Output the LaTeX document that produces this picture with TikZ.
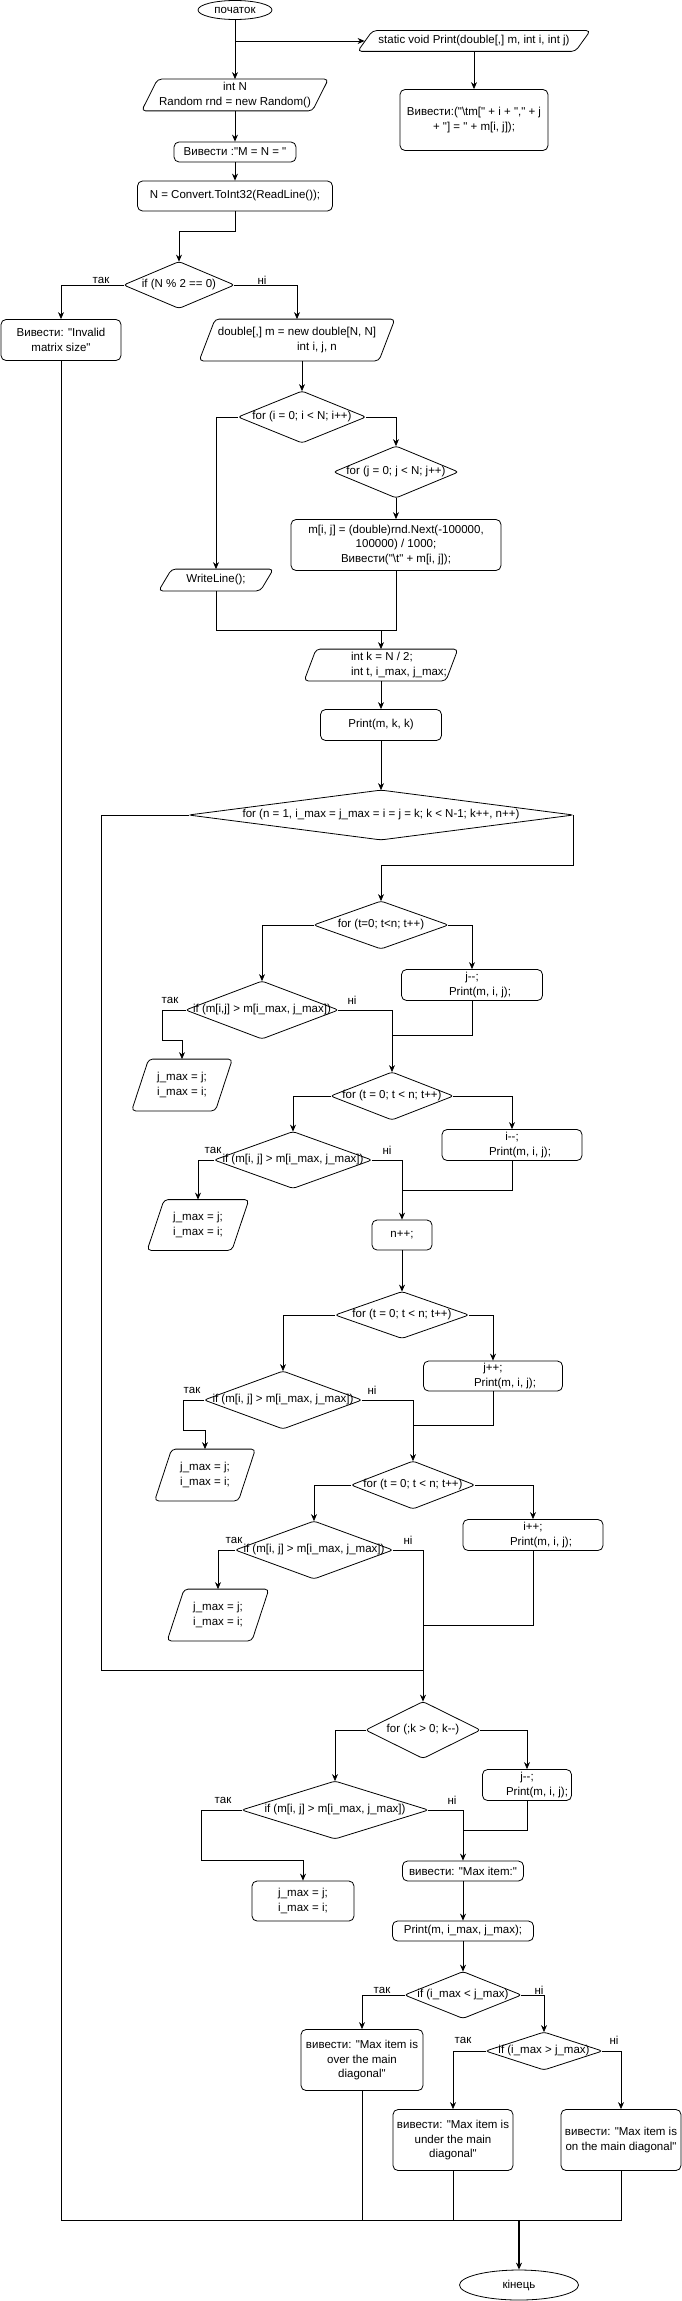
\documentclass[tikz,border=0pt]{standalone}
\usepackage{fontspec}
\setmainfont{Liberation Sans}[Ligatures=TeXOff]
\usepackage{tikz}
\usetikzlibrary{positioning,arrows.meta,shapes.geometric}

\newcommand{\slantbox}[2][15pt]{\draw[rounded corners=4pt] ([xshift=#1]#2.north west) -- (#2.north east) -- ([xshift=-#1]#2.south east) -- (#2.south west) -- cycle;}
\newcommand{\diabox}[1]{\draw[rounded corners=3pt] (#1.west) -- (#1.north) -- (#1.east) -- (#1.south) -- cycle;}

\begin{document}
\begin{tikzpicture}[x=1pt, y=-1pt, line width=0.8pt, font=\fontsize{11.5}{14.5}\selectfont,
    term/.style 2 args={draw, ellipse, inner sep=0pt, minimum width=#1, minimum height=#2},
    proc/.style 2 args={draw, rounded corners=5pt, inner sep=1pt, align=center, minimum width=#1, minimum height=#2},
    io/.style 2 args={inner sep=1pt, align=center, minimum width=#1, minimum height=#2},
    dec/.style 2 args={inner sep=0pt, align=center, minimum width=#1, minimum height=#2},
    lbl/.style={inner sep=0pt},
    arr/.style={-{Stealth[length=7pt,width=6pt]}}]
            \useasboundingbox (0,0) rectangle (682,2301);

            \node[term={74pt}{19pt}] (start) at (235,10) {початок};
            \node[io={232pt}{20pt}] (print) at (474,41) {static void Print(double[,] m, int i, int j)};
            \node[proc={148pt}{61pt}] (printout) at (474,120) {Вивести:("\textbackslash tm[" + i + "," + j\\+ "] = " + m[i, j]);};
            \node[io={186pt}{31pt}] (init) at (235,95) {int N\\Random rnd = new Random()};
            \node[proc={122pt}{20pt}] (askn) at (235,152) {Вивести :"M = N = "};
            \node[proc={195pt}{30pt}] (readn) at (235,196) {N = Convert.ToInt32(ReadLine());};
            \node[dec={110pt}{46pt}] (chk) at (179,285) {if (N \% 2 == 0)};
            \node[proc={120pt}{41pt}] (bad) at (61,340) {Вивести: "Invalid\\matrix size"};
            \node[io={195pt}{41pt}] (alloc) at (297,340) {double[,] m = new double[N, N]\\\hspace*{40pt}int i, j, n};
            \node[dec={127pt}{51pt}] (fori) at (302,417) {for (i = 0; i < N; i++)};
            \node[dec={124pt}{51pt}] (forj) at (396,472) {for (j = 0; j < N; j++)};
            \node[proc={210pt}{51pt}] (fill) at (396,545) {m[i, j] = (double)rnd.Next(-100000,\\100000) / 1000;\\Вивести("\textbackslash t" + m[i, j]);};
            \node[io={114pt}{21pt}] (wl) at (216,580) {WriteLine();};
            \node[io={153pt}{31pt}, align=left] (kinit) at (381,665) {\hspace*{36pt}int k = N / 2;\\\hspace*{36pt}int t, i\_max, j\_max;};
            \node[proc={121pt}{31pt}] (pkk) at (381,725) {Print(m, k, k)};
            \node[dec={384pt}{49pt}] (forn) at (381,815) {for (n = 1, i\_max = j\_max = i = j = k; k < N-1; k++, n++)};

            \node[dec={134pt}{47pt}] (ft1) at (381,925) {for (t=0; t<n; t++)};
            \node[proc={141pt}{31pt}] (jm1) at (472,985) {j-\kern0pt-;\\\hspace*{16pt}Print(m, i, j);};
            \node[dec={152pt}{57pt}] (if1) at (262,1010) {if (m[i,j] > m[i\_max, j\_max])};
            \node[io={100pt}{51pt}] (set1) at (182,1085) {j\_max = j;\\i\_max = i;};
            \node[dec={122pt}{47pt}] (ft2) at (392,1096) {for (t = 0; t < n; t++)};
            \node[proc={140pt}{31pt}] (im1) at (512,1145) {i-\kern0pt-;\\\hspace*{16pt}Print(m, i, j);};
            \node[dec={157pt}{56pt}] (if2) at (293,1160) {if (m[i, j] > m[i\_max, j\_max])};
            \node[io={101pt}{50pt}] (set2) at (198,1225) {j\_max = j;\\i\_max = i;};
            \node[proc={60pt}{30pt}] (ninc) at (402,1235) {n++;};
            \node[dec={133pt}{46pt}] (ft3) at (402,1315) {for (t = 0; t < n; t++)};
            \node[proc={139pt}{30pt}] (jp1) at (493,1376) {j++;\\\hspace*{24pt}Print(m, i, j);};
            \node[dec={157pt}{57pt}] (if3) at (283,1400) {if (m[i, j] > m[i\_max, j\_max])};
            \node[io={100pt}{51pt}] (set3) at (205,1475) {j\_max = j;\\i\_max = i;};
            \node[dec={123pt}{47pt}] (ft4) at (413,1485) {for (t = 0; t < n; t++)};
            \node[proc={140pt}{31pt}] (ip1) at (533,1535) {i++;\\\hspace*{16pt}Print(m, i, j);};
            \node[dec={157pt}{57pt}] (if4) at (314,1550) {if (m[i, j] > m[i\_max, j\_max])};
            \node[io={101pt}{51pt}] (set4) at (218,1615) {j\_max = j;\\i\_max = i;};

            \node[dec={114pt}{56pt}] (fk) at (423,1730) {for (;k > 0; k-\kern0pt-)};
            \node[proc={89pt}{31pt}] (jm2) at (527,1785) {j-\kern0pt-;\\\hspace*{20pt}Print(m, i, j);};
            \node[dec={186pt}{57pt}] (if5) at (335,1810) {if (m[i, j] > m[i\_max, j\_max])};
            \node[proc={102pt}{40pt}] (set5) at (303,1901) {j\_max = j;\\i\_max = i;};
            \node[proc={121pt}{20pt}] (maxi) at (463,1871) {вивести: "Max item:"};
            \node[proc={141pt}{20pt}] (pmax) at (463,1931) {Print(m, i\_max, j\_max);};
            \node[dec={116pt}{46pt}] (if6) at (463,1995) {if (i\_max < j\_max)};
            \node[proc={122pt}{61pt}] (over) at (362,2060) {вивести: "Max item is\\over the main\\diagonal"};
            \node[dec={116pt}{37pt}] (if7) at (544,2051) {if (i\_max > j\_max)};
            \node[proc={120pt}{61pt}] (under) at (453,2140) {вивести: "Max item is\\under the main\\diagonal"};
            \node[proc={120pt}{61pt}] (on) at (621,2140) {вивести: "Max item is\\on the main diagonal"};
            \node[term={119pt}{30pt}] (end) at (519,2285) {кінець};

            \slantbox{print} \slantbox[16pt]{init} \slantbox[16pt]{alloc} \slantbox[13pt]{wl} \slantbox[12pt]{kinit}
            \slantbox[17pt]{set1} \slantbox[17pt]{set2} \slantbox[17pt]{set3} \slantbox[17pt]{set4}
            \diabox{chk} \diabox{fori} \diabox{forj} \diabox{forn} \diabox{ft1} \diabox{ft2} \diabox{ft3} \diabox{ft4}
            \diabox{if1} \diabox{if2} \diabox{if3} \diabox{if4} \diabox{fk} \diabox{if5} \diabox{if6} \diabox{if7}

            \node[lbl] (y0) at (101,280) {так};  \node[lbl] (n0) at (262,280) {ні};
            \node[lbl] (y1) at (170,1000) {так}; \node[lbl] (n1) at (352,1000) {ні};
            \node[lbl] (y2) at (213,1150) {так}; \node[lbl] (n2) at (387,1150) {ні};
            \node[lbl] (y3) at (192,1390) {так}; \node[lbl] (n3) at (372,1390) {ні};
            \node[lbl] (y4) at (234,1540) {так}; \node[lbl] (n4) at (408,1540) {ні};
            \node[lbl] (y5) at (223,1800) {так}; \node[lbl] (n5) at (452,1800) {ні};
            \node[lbl] (y6) at (382,1990) {так}; \node[lbl] (n6) at (539,1990) {ні};
            \node[lbl] (y7) at (463,2040) {так}; \node[lbl] (n7) at (614,2040) {ні};

            \coordinate (br) at (235,41);
            \coordinate (m1) at (396,630);
            \coordinate (j1) at (392,1035);
            \coordinate (j2) at (402,1190);
            \coordinate (j3) at (413,1425);
            \coordinate (j4) at (423,1625);
            \coordinate (back) at (101,1670);
            \coordinate (j5) at (463,1830);
            \coordinate (bot) at (519,2220);

            \draw[arr] (start) -- (init);
            \draw[arr] (br) -- ([xshift=7pt]print.west);
            \draw[arr] (print) -- (printout);
            \draw[arr] (init) -- (askn);
            \draw[arr] (askn) -- (readn);
            \draw[arr] (readn.south) -- ++(0,20) -| (chk.north);
            \draw[arr] (chk.west) -| (bad.north);
            \draw[arr] (chk.east) -| (alloc.north);
            \draw[arr] (fori.north |- alloc.south) -- (fori.north);
            \draw[arr] (fori.west) -| (wl.north);
            \draw[arr] (fori.east) -| (forj.north);
            \draw[arr] (forj) -- (fill);
            \draw (wl.south) |- (m1) -- (fill.south);
            \draw[arr] (kinit.north |- m1) -- (kinit.north);
            \draw[arr] (kinit) -- (pkk);
            \draw[arr] (pkk) -- (forn);
            \draw[arr] (forn.east) -- ++(0,50) -| (ft1.north);
            \draw (forn.west) -| (back) -- (fk.north |- back);

            \draw[arr] (ft1.west) -| (if1.north);
            \draw[arr] (ft1.east) -| (jm1.north);
            \draw[arr] (if1.west) -- ++(-23,0) -- ++(0,30) -| (set1.north);
            \draw[arr] (if1.east) -| (ft2.north);
            \draw (jm1.south) |- (j1);
            \draw[arr] (ft2.west) -| (if2.north);
            \draw[arr] (ft2.east) -| (im1.north);
            \draw[arr] (if2.west) -| (set2.north);
            \draw[arr] (if2.east) -| (ninc.north);
            \draw (im1.south) |- (j2);
            \draw[arr] (ninc) -- (ft3);
            \draw[arr] (ft3.west) -| (if3.north);
            \draw[arr] (ft3.east) -| (jp1.north);
            \draw[arr] (if3.west) -- ++(-21,0) -- ++(0,30) -| (set3.north);
            \draw[arr] (if3.east) -| (ft4.north);
            \draw (jp1.south) |- (j3);
            \draw[arr] (ft4.west) -| (if4.north);
            \draw[arr] (ft4.east) -| (ip1.north);
            \draw[arr] (if4.west) -| (set4.north);
            \draw[arr] (if4.east) -| (fk.north);
            \draw (ip1.south) |- (j4);

            \draw[arr] (fk.west) -| (if5.north);
            \draw[arr] (fk.east) -| (jm2.north);
            \draw[arr] (if5.west) -- ++(-40,0) -- ++(0,50) -| (set5.north);
            \draw[arr] (if5.east) -| (maxi.north);
            \draw (jm2.south) |- (j5);
            \draw[arr] (maxi) -- (pmax);
            \draw[arr] (pmax) -- (if6);
            \draw[arr] (if6.west) -| (over.north);
            \draw[arr] (if6.east) -| (if7.north);
            \draw[arr] (if7.west) -| (under.north);
            \draw[arr] (if7.east) -| (on.north);

            \draw (bad.south) |- (on.south |- bot) -- (on.south);
            \draw (over.south) -- (over.south |- bot);
            \draw (under.south) -- (under.south |- bot);
            \draw[arr, line width=1.6pt] (bot) -- (end.north);
        \end{tikzpicture}
\end{document}
